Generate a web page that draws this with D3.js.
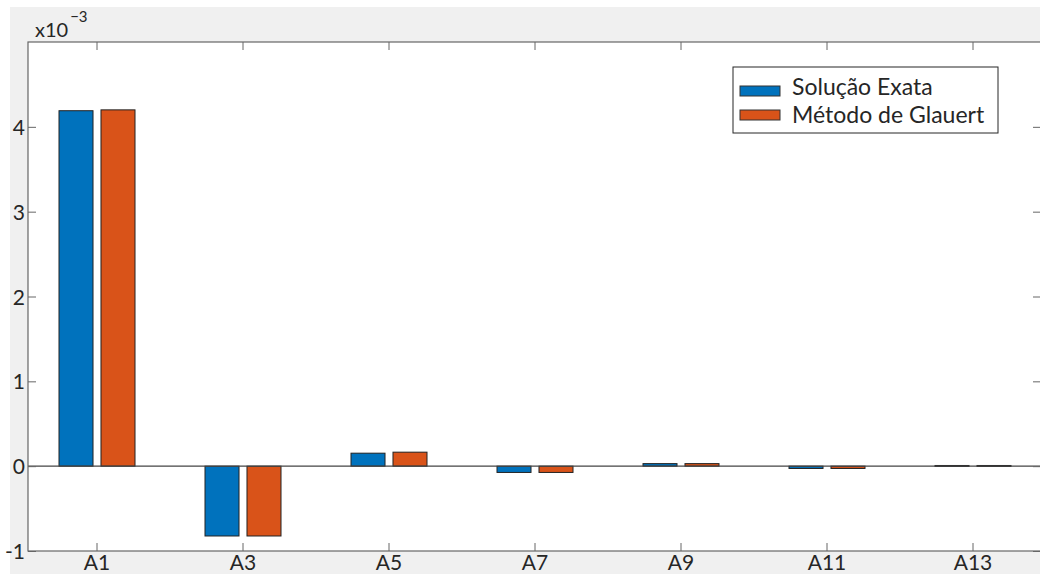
<!DOCTYPE html>
<html>
<head>
<meta charset="utf-8">
<script src="https://cdn.jsdelivr.net/npm/d3@7/dist/d3.min.js"></script>
<style>
  html, body { margin: 0; padding: 0; background: #fff; }
  svg { display: block; }
  text { font-family: Lato, "Open Sans", sans-serif; fill: #262626; }
</style>
</head>
<body>
<svg id="chart" width="1040" height="574"></svg>
<script>
// Fourier coefficients A1..A13 (units of 1e-3)
const categories = ["A1", "A3", "A5", "A7", "A9", "A11", "A13"];
const seriesNames = ["Solução Exata", "Método de Glauert"];
const exactValues = [4.19, -0.823, 0.153, -0.074, 0.030, -0.027, 0.008];
const glauertValues = [4.20, -0.823, 0.165, -0.074, 0.030, -0.027, 0.008];
const yTicks = [-1, 0, 1, 2, 3, 4];
const seriesColors = ["#0072BD", "#D95319"];

const svg = d3.select("#chart");
const W = 1040, H = 574;
const plot = { left: 28, top: 42, right: 1041, bottom: 551 };

// figure background
svg.append("rect").attr("x", 10).attr("y", 7).attr("width", W - 10).attr("height", H - 7)
  .attr("fill", "#f0f0f0");

// axes background
svg.append("rect")
  .attr("x", plot.left).attr("y", plot.top)
  .attr("width", plot.right - plot.left).attr("height", plot.bottom - plot.top)
  .attr("fill", "#fff");

const step = 146;
const x = d3.scaleBand()
  .domain(categories)
  .range([97 - step / 2, 97 - step / 2 + step * categories.length])
  .paddingInner(0).paddingOuter(0);

const xInner = d3.scaleBand()
  .domain(seriesNames)
  .range([-38, 38])
  .paddingInner(0.19).paddingOuter(0);

const y = d3.scaleLinear().domain([-1, 5]).range([plot.bottom, plot.top]);

const rows = categories.map((c, i) => ({ cat: c, vals: [exactValues[i], glauertValues[i]] }));

svg.append("clipPath").attr("id", "clip")
  .append("rect")
  .attr("x", plot.left).attr("y", plot.top)
  .attr("width", plot.right - plot.left).attr("height", plot.bottom - plot.top);

const g = svg.append("g").attr("clip-path", "url(#clip)");

// bars
const groups = g.selectAll("g.grp").data(rows).join("g")
  .attr("class", "grp")
  .attr("transform", d => `translate(${x(d.cat) + x.bandwidth() / 2},0)`);

groups.selectAll("rect").data(d => d.vals.map((v, k) => ({ v, k })))
  .join("rect")
  .attr("x", d => xInner(seriesNames[d.k]))
  .attr("width", xInner.bandwidth())
  .attr("y", d => y(Math.max(0, d.v)))
  .attr("height", d => Math.max(1, Math.abs(y(d.v) - y(0))))
  .attr("fill", d => seriesColors[d.k])
  .attr("stroke", "#222")
  .attr("stroke-width", 1);

// zero baseline
g.append("line")
  .attr("x1", plot.left).attr("x2", plot.right)
  .attr("y1", y(0)).attr("y2", y(0))
  .attr("stroke", "#444").attr("stroke-width", 1.2);

// axes with inward ticks
const axisColor = "#666";
const tickLen = 8;

const axisBottom = d3.axisBottom(x).tickSize(-tickLen).tickPadding(0);
const gB = svg.append("g").attr("transform", `translate(0,${plot.bottom})`).call(axisBottom);
const axisTop = d3.axisTop(x).tickSize(-tickLen).tickFormat("");
const gT = svg.append("g").attr("transform", `translate(0,${plot.top})`).call(axisTop);
const axisLeft = d3.axisLeft(y).tickValues(yTicks).tickSize(-tickLen).tickPadding(3)
  .tickFormat(d => d3.format("d")(d).replace("−", "-"));
const gL = svg.append("g").attr("transform", `translate(${plot.left},0)`).call(axisLeft);
const axisRight = d3.axisRight(y).tickValues(yTicks).tickSize(-tickLen).tickFormat("");
const gR = svg.append("g").attr("transform", `translate(${plot.right},0)`).call(axisRight);

[gB, gT, gL, gR].forEach(a => {
  a.select(".domain").remove();
  a.selectAll(".tick line").attr("stroke", axisColor);
});

gB.selectAll(".tick text").attr("font-size", 21).attr("y", 19).attr("dy", 0)
  .attr("fill", "#262626").attr("font-family", "Lato");
gL.selectAll(".tick text").attr("font-size", 21).attr("dy", "0.36em")
  .attr("fill", "#262626").attr("font-family", "Lato");

// axes frame
svg.append("rect")
  .attr("x", plot.left).attr("y", plot.top)
  .attr("width", plot.right - plot.left).attr("height", plot.bottom - plot.top)
  .attr("fill", "none").attr("stroke", axisColor).attr("stroke-width", 1.2);

// exponent label
const expo = svg.append("text").attr("x", 35).attr("y", 37).attr("font-size", 20);
expo.append("tspan").text("x10");
expo.append("tspan").attr("dy", -15).attr("dx", 2).attr("font-size", 15).text("−3");

// legend
const lg = svg.append("g").attr("transform", "translate(733,67)");
lg.append("rect").attr("width", 265).attr("height", 66)
  .attr("fill", "#fff").attr("stroke", "#262626").attr("stroke-width", 1);
seriesNames.forEach((name, k) => {
  const row = lg.append("g").attr("transform", `translate(0,${19 + k * 24})`);
  row.append("rect").attr("x", 7).attr("y", 0).attr("width", 40).attr("height", 10)
    .attr("fill", seriesColors[k]).attr("stroke", "#333");
  row.append("text").attr("x", 59).attr("y", 9 + k * 4)
    .attr("font-size", 23).text(name);
});
</script>
</body>
</html>
